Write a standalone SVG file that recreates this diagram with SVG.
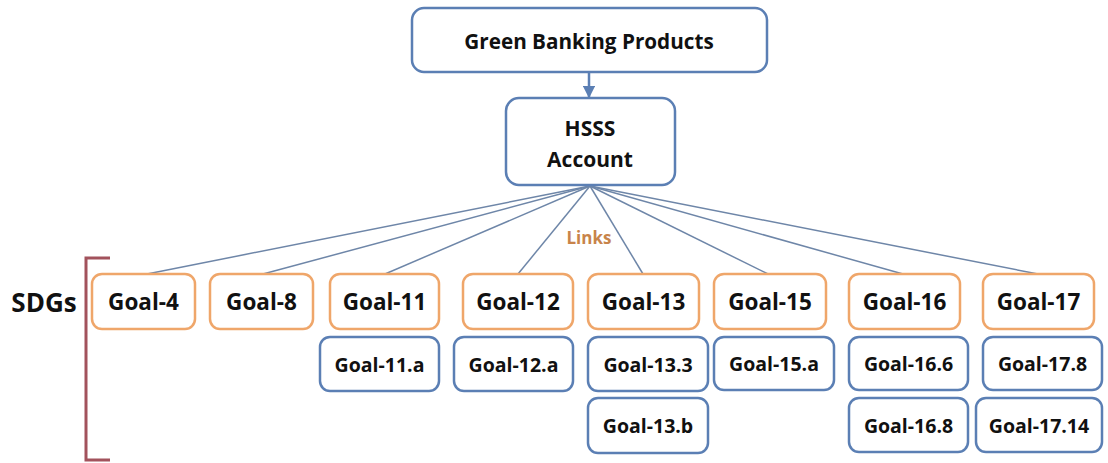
<svg xmlns="http://www.w3.org/2000/svg" width="1108" height="463" viewBox="0 0 1108 463">
  <defs>
    <style>
      .lbl { font-family: "Open Sans", "Liberation Sans", sans-serif; font-weight: 700; fill: #111; text-anchor: middle; dominant-baseline: central; }
      .g { font-size: 22.5px; }
      .s { font-size: 19.5px; }
      .goal { fill: #fff; stroke: #EFA66A; stroke-width: 2.5; }
      .sub { fill: #fff; stroke: #5B7FB4; stroke-width: 2.5; }
      .main { fill: #fff; stroke: #5B7FB4; stroke-width: 2.5; }
      .link { stroke: #6E86A8; stroke-width: 1.5; fill: none; }
    </style>
    <marker id="arrow" viewBox="0 0 10 10" refX="9" refY="5" markerWidth="5" markerHeight="5" orient="auto">
      <path d="M0,0 L10,5 L0,10 z" fill="#5B7FB4"/>
    </marker>
  </defs>

  <!-- connectors -->
  <g id="connectors">
    <line x1="589" y1="72" x2="589" y2="97" stroke="#5B7FB4" stroke-width="2.5" marker-end="url(#arrow)"/>
    <line class="link" x1="590" y1="186" x2="147" y2="274"/>
    <line class="link" x1="590" y1="186" x2="263" y2="274"/>
    <line class="link" x1="590" y1="186" x2="385" y2="274"/>
    <line class="link" x1="590" y1="186" x2="518" y2="274"/>
    <line class="link" x1="590" y1="186" x2="643" y2="274"/>
    <line class="link" x1="590" y1="186" x2="768" y2="274"/>
    <line class="link" x1="590" y1="186" x2="903" y2="274"/>
    <line class="link" x1="590" y1="186" x2="1038" y2="274"/>
    <text x="589" y="237" class="lbl" style="fill:#C8844A;font-size:17px">Links</text>
  </g>

  <!-- top nodes -->
  <g id="green-banking">
    <rect class="main" x="412" y="8" width="355" height="64" rx="12"/>
    <text class="lbl" x="589" y="41" font-size="20.7">Green Banking Products</text>
  </g>
  <g id="hsss-account">
    <rect class="main" x="506" y="98" width="169" height="87" rx="13"/>
    <text class="lbl" x="590" y="128" font-size="21">HSSS</text>
    <text class="lbl" x="590" y="159" font-size="21">Account</text>
  </g>

  <!-- SDGs bracket -->
  <g id="sdgs">
    <text class="lbl" x="44" y="302" font-size="26">SDGs</text>
    <path d="M110,258 L86,258 L86,460 L110,460" fill="none" stroke="#A2525C" stroke-width="3"/>
  </g>

  <!-- goals -->
  <g id="goal-4"><rect class="goal" x="92" y="274" width="103" height="55" rx="10"/><text class="lbl g" x="143.5" y="301.5">Goal-4</text></g>
  <g id="goal-8"><rect class="goal" x="210" y="274" width="103" height="55" rx="10"/><text class="lbl g" x="261.5" y="301.5">Goal-8</text></g>
  <g id="goal-11"><rect class="goal" x="330" y="274" width="109" height="55" rx="10"/><text class="lbl g" x="384.5" y="301.5">Goal-11</text></g>
  <g id="goal-12"><rect class="goal" x="463" y="274" width="110" height="55" rx="10"/><text class="lbl g" x="518" y="301.5">Goal-12</text></g>
  <g id="goal-13"><rect class="goal" x="588" y="274" width="111" height="55" rx="10"/><text class="lbl g" x="643.5" y="301.5">Goal-13</text></g>
  <g id="goal-15"><rect class="goal" x="714" y="274" width="112" height="55" rx="10"/><text class="lbl g" x="770" y="301.5">Goal-15</text></g>
  <g id="goal-16"><rect class="goal" x="849" y="274" width="111" height="55" rx="10"/><text class="lbl g" x="904.5" y="301.5">Goal-16</text></g>
  <g id="goal-17"><rect class="goal" x="983" y="274" width="111" height="55" rx="10"/><text class="lbl g" x="1038.5" y="301.5">Goal-17</text></g>

  <!-- targets -->
  <g id="goal-11a"><rect class="sub" x="320" y="337" width="119" height="54" rx="10"/><text class="lbl s" x="379.5" y="364">Goal-11.a</text></g>
  <g id="goal-12a"><rect class="sub" x="454" y="337" width="119" height="54" rx="10"/><text class="lbl s" x="513.5" y="364">Goal-12.a</text></g>
  <g id="goal-13-3"><rect class="sub" x="588" y="337" width="120" height="54" rx="10"/><text class="lbl s" x="648" y="364">Goal-13.3</text></g>
  <g id="goal-13b"><rect class="sub" x="588" y="398" width="120" height="55" rx="10"/><text class="lbl s" x="648" y="425.5">Goal-13.b</text></g>
  <g id="goal-15a"><rect class="sub" x="714" y="337" width="120" height="53" rx="10"/><text class="lbl s" x="774" y="363.5">Goal-15.a</text></g>
  <g id="goal-16-6"><rect class="sub" x="849" y="337" width="119" height="53" rx="10"/><text class="lbl s" x="908.5" y="363.5">Goal-16.6</text></g>
  <g id="goal-16-8"><rect class="sub" x="849" y="398" width="119" height="54" rx="10"/><text class="lbl s" x="908.5" y="425">Goal-16.8</text></g>
  <g id="goal-17-8"><rect class="sub" x="983" y="337" width="119" height="53" rx="10"/><text class="lbl s" x="1042.5" y="363.5">Goal-17.8</text></g>
  <g id="goal-17-14"><rect class="sub" x="976" y="398" width="126" height="54" rx="10"/><text class="lbl s" x="1039" y="425">Goal-17.14</text></g>
</svg>
